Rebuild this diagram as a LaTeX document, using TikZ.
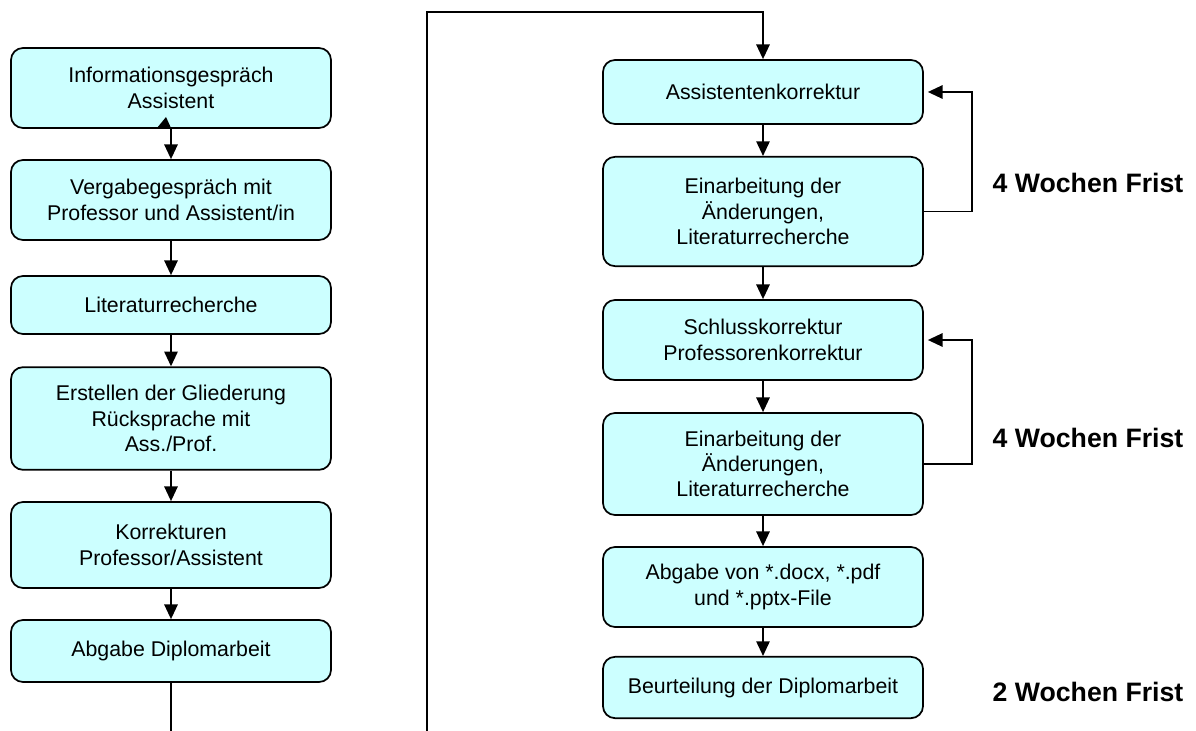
\documentclass[tikz,border=0pt]{standalone}
\usepackage{fontspec}
\setmainfont{Liberation Sans}
\usetikzlibrary{arrows.meta,positioning}

\definecolor{boxcyan}{RGB}{204,255,255}

\tikzset{
  stepbox/.style={draw,fill=boxcyan,rounded corners=9pt,line width=1.3pt,
    minimum width=240pt,align=center,inner sep=2pt,
    font=\fontsize{16}{19}\selectfont},
  frist/.style={font=\bfseries\fontsize{20}{24}\selectfont},
  arr/.style={-{Triangle[length=11pt,width=10pt]},line width=1.3pt},
  line/.style={line width=1.3pt}
}

\begin{document}
\begin{tikzpicture}[x=0.75pt,y=-0.75pt]
  \useasboundingbox (0,0) rectangle (1196,731);

  % linke Spalte
  \node[stepbox,minimum height=60pt]   (info)    at (171,88)    {Informationsgespräch\\Assistent};
  \node[stepbox,minimum height=60pt]   (vergabe) at (171,200)   {Vergabegespräch mit\\Professor und Assistent/in};
  \node[stepbox,minimum height=43.5pt] (litrech) at (171,305)   {Literaturrecherche};
  \node[stepbox,minimum height=77pt]   (glied)   at (171,418.5) {Erstellen der Gliederung\\Rücksprache mit\\Ass./Prof.};
  \node[stepbox,minimum height=64.5pt] (korr)    at (171,545)   {Korrekturen\\Professor/Assistent};
  \node[stepbox,minimum height=46.5pt] (abgabe)  at (171,651)   {Abgabe Diplomarbeit};

  % rechte Spalte
  \node[stepbox,minimum height=48pt]   (assist)  at (763,92)    {Assistentenkorrektur};
  \node[stepbox,minimum height=82pt]   (einarbA) at (763,211.5) {Einarbeitung der\\Änderungen,\\Literaturrecherche};
  \node[stepbox,minimum height=60pt]   (schluss) at (763,340)   {Schlusskorrektur\\Professorenkorrektur};
  \node[stepbox,minimum height=76.5pt] (einarbB) at (763,464)   {Einarbeitung der\\Änderungen,\\Literaturrecherche};
  \node[stepbox,minimum height=60pt]   (files)   at (763,587)   {Abgabe von *.docx, *.pdf\\und *.pptx-File};
  \node[stepbox,minimum height=46pt]   (beurt)   at (763,687.5) {Beurteilung der Diplomarbeit};

  % Fristen
  \node[frist] (fristA) at (1088,183) {4 Wochen Frist};
  \node[frist] (fristB) at (1088,438) {4 Wochen Frist};
  \node[frist] (fristC) at (1088,692) {2 Wochen Frist};

  % Verbindungen
  \draw[arr] (info) -- (vergabe);
  \draw[arr] (vergabe) -- (litrech);
  \draw[arr] (litrech) -- (glied);
  \draw[arr] (glied) -- (korr);
  \draw[arr] (korr) -- (abgabe);
  \fill (157,128) -- (166,117) -- (171,128) -- cycle;

  \coordinate (leftend) at (171,731);
  \draw[line] (abgabe) -- (leftend);

  \coordinate (jumpbot) at (427,731);
  \coordinate (jumptop) at (427,12);
  \draw[arr] (jumpbot) -- (jumptop) -| (assist.north);

  \draw[arr] (assist) -- (einarbA);
  \draw[arr] (einarbA) -- (schluss);
  \draw[arr] (schluss) -- (einarbB);
  \draw[arr] (einarbB) -- (files);
  \draw[arr] (files) -- (beurt);

  \draw[arr,shorten >=3pt] (einarbA.east) -- ++(48,0) |- (assist.east);
  \draw[arr,shorten >=3pt] (einarbB.east) -- ++(48,0) |- (schluss.east);
\end{tikzpicture}
\end{document}
